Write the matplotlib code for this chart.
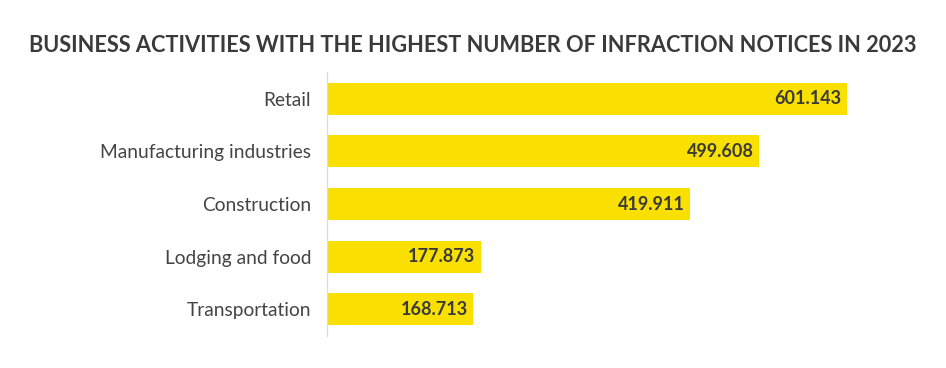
import matplotlib
matplotlib.use("Agg")
import matplotlib.pyplot as plt

# data
activities = ["Retail", "Manufacturing industries", "Construction", "Lodging and food", "Transportation"]
notices = [601143, 499608, 419911, 177873, 168713]
value_labels = ["601.143", "499.608", "419.911", "177.873", "168.713"]

bar_color = "#F9E000"
text_color = "#3a3a3a"

fig = plt.figure(figsize=(9.46, 3.68), dpi=100)
ax = fig.add_axes([327 / 946, 32 / 368, 605 / 946, 264 / 368])

pos = list(range(len(activities)))
ax.barh(pos, notices, height=0.61, color=bar_color)

for p, v, lab in zip(pos, notices, value_labels):
    ax.text(v - 6000, p, lab, ha="right", va="center", fontsize=13,
            fontweight="bold", color=text_color, family="Lato")

ax.set_yticks(pos)
ax.set_yticklabels(activities, fontsize=13.8, color="#444444", family="Lato")
ax.tick_params(axis="y", length=0, pad=11.5)
ax.set_xticks([])
ax.set_xlim(0, 700000)
ax.set_ylim(4.51, -0.51)

for side in ["top", "right", "bottom"]:
    ax.spines[side].set_visible(False)
ax.spines["left"].set_color("#dddddd")
ax.spines["left"].set_linewidth(1)

fig.text(0.5, 1 - 45 / 368, "BUSINESS ACTIVITIES WITH THE HIGHEST NUMBER OF INFRACTION NOTICES IN 2023",
         ha="center", va="center", fontsize=15.7, fontweight="bold", color=text_color, family="Lato")

fig.savefig("out.png", dpi=100)
